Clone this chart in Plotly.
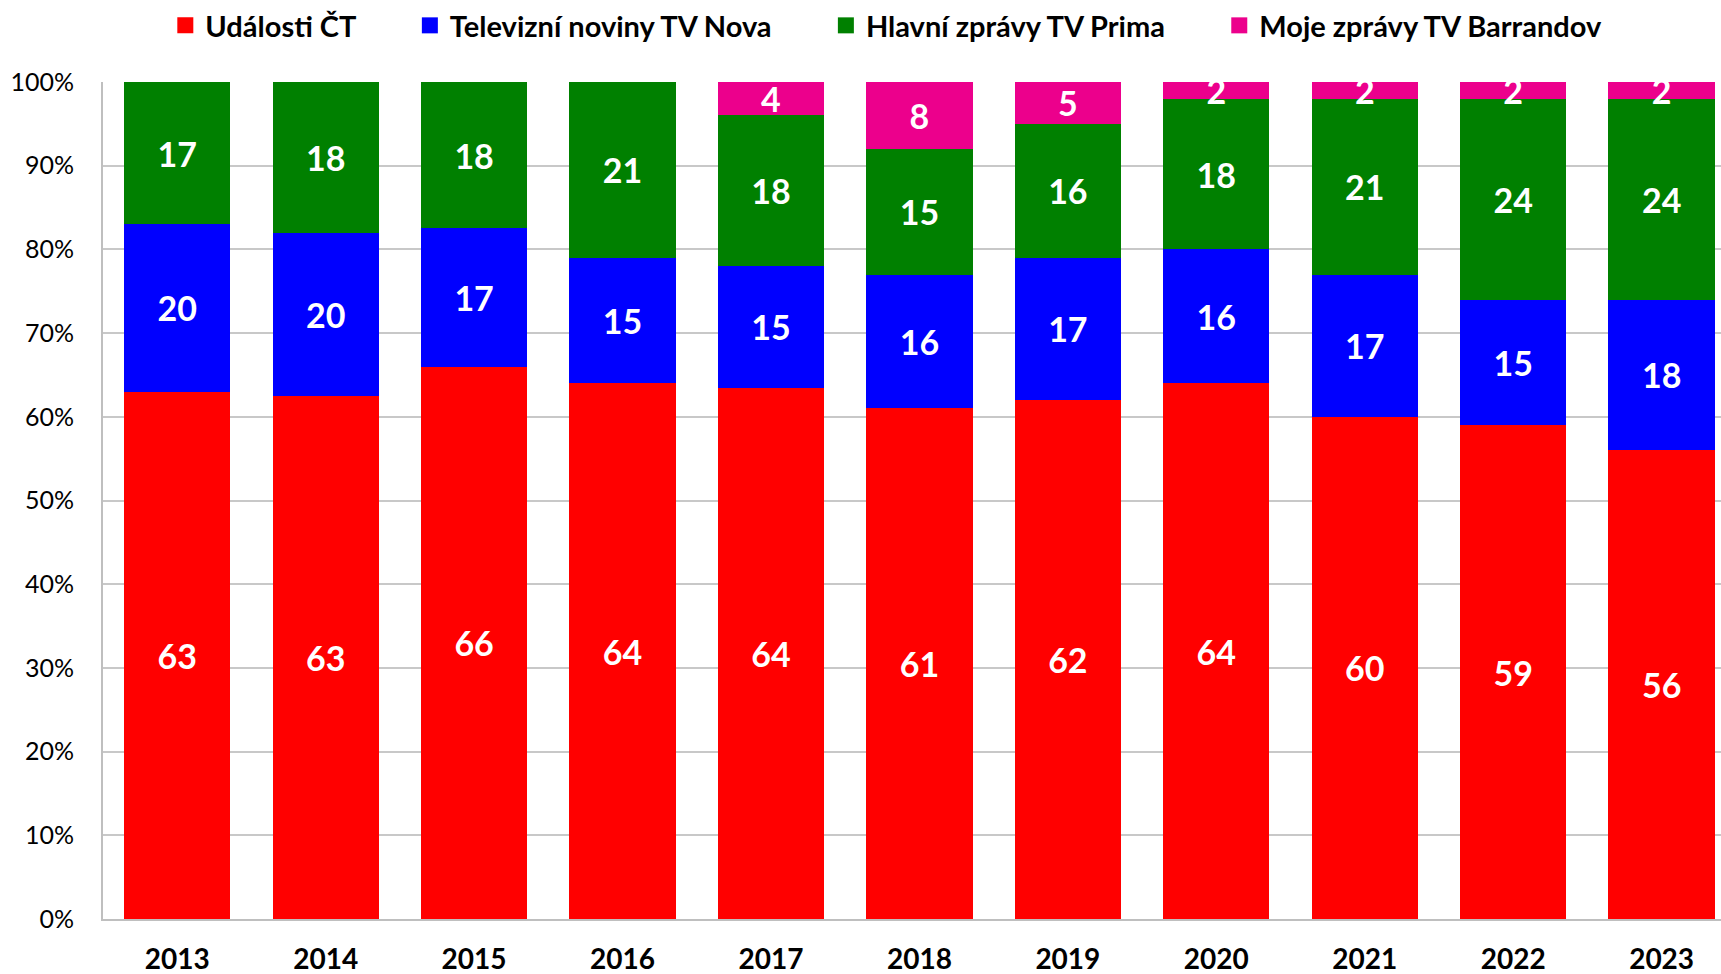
import plotly.graph_objects as go

years = ["2013", "2014", "2015", "2016", "2017", "2018", "2019", "2020", "2021", "2022", "2023"]
udalosti_ct = [63, 62.5, 66, 64, 63.5, 61, 62, 64, 60, 59, 56]
tv_nova = [20, 19.5, 16.5, 15, 14.5, 16, 17, 16, 17, 15, 18]
tv_prima = [17, 18, 17.5, 21, 18, 15, 16, 18, 21, 24, 24]
tv_barrandov = [None, None, None, None, 4, 8, 5, 2, 2, 2, 2]

series_names = ["Události ČT", "Televizní noviny TV Nova", "Hlavní zprávy TV Prima", "Moje zprávy TV Barrandov"]
series_values = [udalosti_ct, tv_nova, tv_prima, tv_barrandov]
colors = ["#FF0000", "#0000FF", "#008000", "#EC008C"]
y_ticks = [0, 10, 20, 30, 40, 50, 60, 70, 80, 90, 100]
y_tick_labels = [f"{v}%" for v in y_ticks]

FONT = "Lato"
PAD = "\u00a0" * 7

fig = go.Figure()
for name, vals, col in zip(series_names, series_values, colors):
    fig.add_trace(go.Bar(
        x=years, y=vals, name=name, marker=dict(color=col, line=dict(width=0)),
        texttemplate="%{y:.0f}", textposition="inside", insidetextanchor="middle",
        textangle=0, textfont=dict(family=FONT, size=34, color="white", weight="bold"),
        showlegend=False, hoverinfo="skip",
    ))
# legend entries with larger square markers
for i, (name, col) in enumerate(zip(series_names, colors)):
    fig.add_trace(go.Scatter(
        x=[None], y=[None], mode="markers",
        name=name + (PAD if i < len(series_names) - 1 else ""),
        marker=dict(symbol="square", size=19, color=col),
    ))

fig.update_layout(
    width=1721, height=974,
    barmode="stack", bargap=0.284,
    plot_bgcolor="white", paper_bgcolor="white",
    margin=dict(l=103, r=0, t=82, b=55),
    uniformtext=dict(minsize=34, mode="show"),
    font=dict(family=FONT, color="black"),
    legend=dict(
        orientation="h", xref="container", yref="container", traceorder="normal",
        x=0.515, xanchor="center", y=1.0, yanchor="top",
        font=dict(family=FONT, size=29, color="black", weight="bold"),
        itemclick=False, itemdoubleclick=False,
    ),
    xaxis=dict(
        range=[-0.5, 10.40], showline=True, linecolor="#BFBFBF", linewidth=2,
        tickfont=dict(family=FONT, size=28, color="black", weight="bold"),
        ticklabelstandoff=14, showgrid=False, automargin=False,
    ),
    yaxis=dict(
        range=[0, 100], tickmode="array", tickvals=y_ticks, ticktext=y_tick_labels,
        showline=True, linecolor="#BFBFBF", linewidth=2,
        showgrid=True, gridcolor="#C8C8C8", gridwidth=2,
        tickfont=dict(family=FONT, size=25, color="black"),
        ticklabelstandoff=22, zeroline=False, automargin=False,
    ),
)

fig.write_html("out.html")
